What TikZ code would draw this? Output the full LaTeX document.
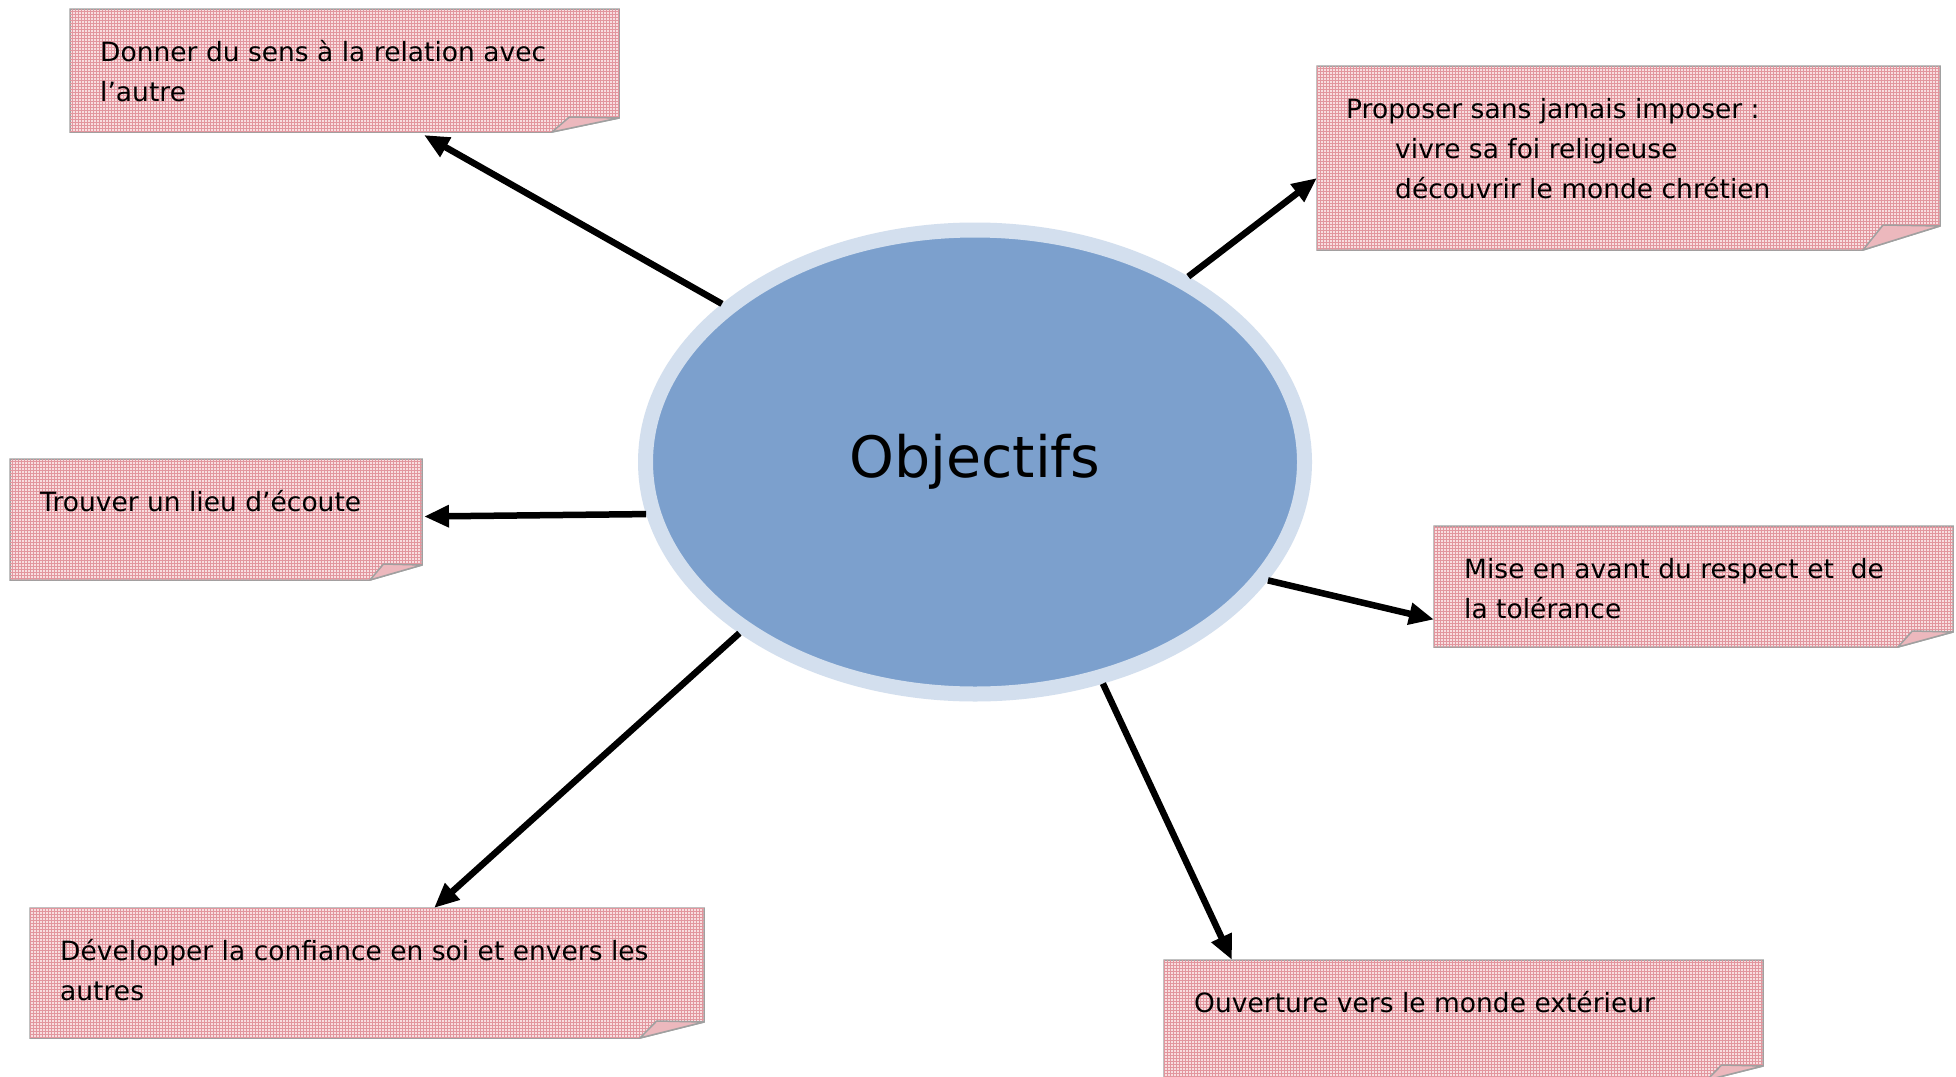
\documentclass[tikz,border=0pt]{standalone}
\usepackage{fontspec}
\setmainfont{DejaVu Sans}
\usetikzlibrary{shapes.geometric,arrows.meta,patterns,calc}
\definecolor{pinkbase}{RGB}{248,222,224}
\definecolor{pinkline}{RGB}{226,150,158}
\definecolor{pinkflap}{RGB}{236,184,189}
\definecolor{boxgray}{RGB}{160,160,160}
\definecolor{ellfill}{RGB}{124,160,205}
\definecolor{ellring}{RGB}{211,223,238}
\tikzset{
  notebody/.style={fill=pinkbase, draw=boxgray, line width=1.5pt, line join=miter},
  notegrid/.style={pattern=grid, pattern color=pinkline},
  noteflap/.style={fill=pinkflap, draw=boxgray, line width=1.5pt, line join=round},
  boxanchor/.style={inner sep=0pt, outer sep=0pt, anchor=north west},
  txt/.style={inner sep=0pt, anchor=north west, align=left, font=\fontsize{26.5}{40}\selectfont},
  arr/.style={line width=6.5pt, -{Triangle[length=25pt,width=21pt]}},
}
% name, x1, y1, x2, y2, dx, dy
\newcommand{\notebox}[7]{%
  \node[boxanchor, minimum width={#4-#2}, minimum height={#5-#3}] (#1) at (#2,#3) {};
  \path[notebody] (#2,#3) -- (#4,#3) -- (#4,{#5-#7}) -- ({#4-#6},#5) -- (#2,#5) -- cycle;
  \path[notegrid] (#2,#3) -- (#4,#3) -- (#4,{#5-#7}) -- ({#4-#6},#5) -- (#2,#5) -- cycle;
  \path[noteflap] ({#4-#6},#5) .. controls ({#4-#6+0.12*#6},{#5-0.5*#7}) .. ({#4-0.74*#6},{#5-#7-1}) -- (#4,{#5-#7}) -- cycle;
}
\begin{document}
\begin{tikzpicture}[x=1pt,y=-1pt]
\clip (0,0) rectangle (1956,1076);
\fill[white] (0,0) rectangle (1956,1076);

\notebox{b1}{70}{9}{619}{132}{67}{14}
\notebox{b2}{1317}{66}{1940}{250}{77}{24}
\notebox{b3}{10}{459}{422}{580}{52}{15}
\notebox{b4}{1434}{526}{1953}{647}{55}{15}
\notebox{b5}{30}{908}{704}{1038}{64}{16}
\notebox{b6}{1164}{960}{1763}{1080}{56}{14}

\node[txt] (t1) at (100,33) {\strut Donner du sens à la relation avec\\l’autre};
\node[txt] (t2) at (1346,90) {\strut Proposer sans jamais imposer :\\\hspace*{49pt}vivre sa foi religieuse\\\hspace*{49pt}découvrir le monde chrétien};
\node[txt] (t3) at (40,483) {\strut Trouver un lieu d’écoute};
\node[txt] (t4) at (1464,550) {\strut Mise en avant du respect et \ de\\la tolérance};
\node[txt] (t5) at (60,932) {\strut Développer la confiance en soi et envers les\\autres};
\node[txt] (t6) at (1194,984) {\strut Ouverture vers le monde extérieur};

\node[ellipse, minimum width=659pt, minimum height=464pt, inner sep=0pt,
      fill=ellfill, draw=ellring, line width=15pt,
      font=\fontsize{57}{60}\selectfont] (ell) at (975,462) {Objectifs};

\draw[arr] (ell.148) -- ($(b1.south west)+(354,3)$);
\draw[arr] (ell.41) -- ($(b2.west)+(0,20)$);
\draw[arr] (ell.189) -- ($(b3.east)+(2,-3)$);
\draw[arr] (ell.338) -- ($(b4.west)+(0,33)$);
\draw[arr] (ell.216) -- ($(b5.north west)+(404,0)$);
\draw[arr] (ell.300) -- ($(b6.north west)+(68,0)$);
\end{tikzpicture}
\end{document}
